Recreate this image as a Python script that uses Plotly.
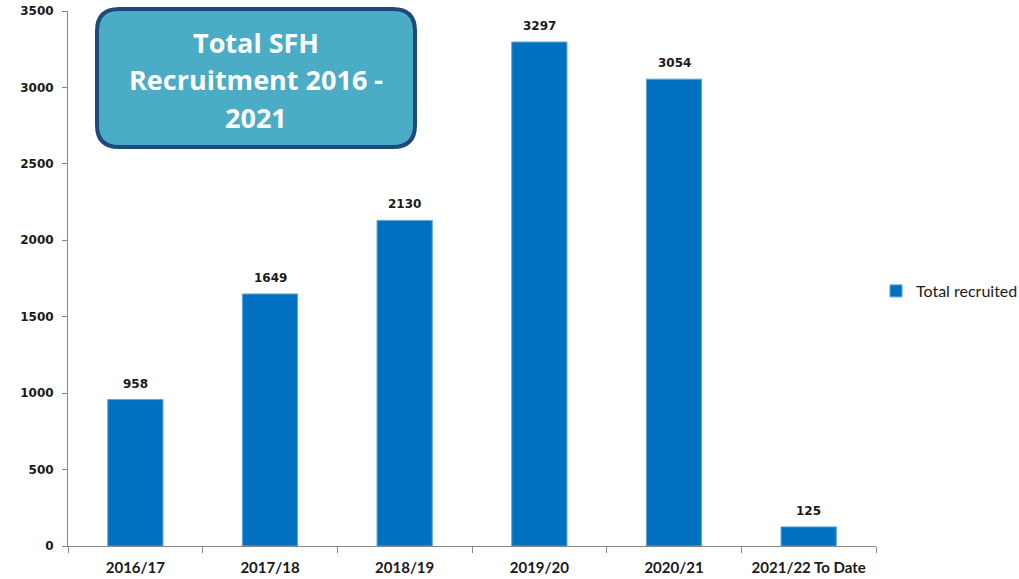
import plotly.graph_objects as go

categories = ["2016/17", "2017/18", "2018/19", "2019/20", "2020/21", "2021/22 To Date"]
total_recruited = [958, 1649, 2130, 3297, 3054, 125]
y_ticks = [0, 500, 1000, 1500, 2000, 2500, 3000, 3500]
series_name = "Total recruited"
title_lines = ["Total SFH", "Recruitment 2016 -", "2021"]

W, H = 1019, 579
L, T = 68, 11
pw, ph = 808, 535
R, B = W - L - pw, H - T - ph

fig = go.Figure()
fig.add_trace(go.Bar(
    x=categories, y=total_recruited, name=series_name,
    marker=dict(color="#0070C0", line=dict(color="#5BA3DC", width=1)),
    showlegend=True,
))

for c, v in zip(categories, total_recruited):
    fig.add_annotation(x=c, y=v, text=str(v), showarrow=False, yanchor="bottom",
                       yshift=7, font=dict(family="DejaVu Sans", size=12, color="#1a1a1a",
                                           weight="bold"),
                       xref="x", yref="y")

# rounded title box in page-pixel terms -> paper coords
def px(x):
    return (x - L) / pw

def py(y):
    return (T + ph - y) / ph

x0, x1, y0, y1, r = 97, 415, 9, 147, 22
path = (f"M {px(x0 + r)},{py(y0)} L {px(x1 - r)},{py(y0)} "
        f"Q {px(x1)},{py(y0)} {px(x1)},{py(y0 + r)} "
        f"L {px(x1)},{py(y1 - r)} Q {px(x1)},{py(y1)} {px(x1 - r)},{py(y1)} "
        f"L {px(x0 + r)},{py(y1)} Q {px(x0)},{py(y1)} {px(x0)},{py(y1 - r)} "
        f"L {px(x0)},{py(y0 + r)} Q {px(x0)},{py(y0)} {px(x0 + r)},{py(y0)} Z")
fig.add_shape(type="path", path=path, xref="paper", yref="paper",
              fillcolor="#4BACC6", line=dict(color="#1F497D", width=4), layer="above")
for line_text, line_y in zip(title_lines, [42, 79.5, 117]):
    fig.add_annotation(x=px((x0 + x1) / 2), y=py(line_y), xref="paper", yref="paper",
                       text=line_text, showarrow=False, xanchor="center", yanchor="middle",
                       font=dict(family="Open Sans", size=27, color="white", weight="bold"),
                       align="center")

fig.update_layout(
    width=W, height=H,
    margin=dict(l=L, r=R, t=T, b=B, autoexpand=False),
    paper_bgcolor="white", plot_bgcolor="white",
    bargap=0.59,
    showlegend=True,
    legend=dict(x=1.0, xanchor="left", y=py(291), yanchor="middle",
                font=dict(family="Lato", size=16, color="#1a1a1a"),
                itemwidth=30),
    xaxis=dict(showline=True, linecolor="#868686", linewidth=1,
               ticks="outside", tickson="boundaries", ticklen=6, tickcolor="#868686",
               tickfont=dict(family="Lato", size=15, color="#1a1a1a", weight="bold"),
               ticklabelstandoff=8,
               showgrid=False),
    yaxis=dict(range=[0, 3500], tickvals=y_ticks, showline=True, linecolor="#868686",
               linewidth=1, ticks="outside", ticklen=5, tickcolor="#868686",
               tickfont=dict(family="DejaVu Sans", size=12, color="#1a1a1a", weight="bold"),
               ticklabeloverflow="allow", ticklabelstandoff=6,
               showgrid=False, zeroline=False),
)

fig.write_html("out.html", config={"displayModeBar": False},
               post_script="document.body.style.margin='0px';")
